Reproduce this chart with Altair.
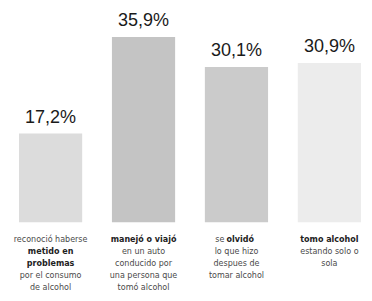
import altair as alt
import pandas as pd

categories = ["c1", "c2", "c3", "c4"]
values = [17.2, 35.9, 30.1, 30.9]
value_labels = ["17,2%", "35,9%", "30,1%", "30,9%"]

# caption lines per category: (text, weight, piece)
captions = {
    "c1": [("reconoció haberse", "normal", "c"), ("metido en", "bold", "c"),
           ("problemas", "bold", "c"), ("por el consumo", "normal", "c"),
           ("de alcohol", "normal", "c")],
    "c2": [("manejó o viajó", "bold", "c"), ("en un auto", "normal", "c"),
           ("conducido por", "normal", "c"), ("una persona que", "normal", "c"),
           ("tomó alcohol", "normal", "c")],
    "c3": [("se", "normal", "l"), ("olvidó", "bold", "r"),
           ("lo que hizo", "normal", "c"), ("despues de", "normal", "c"),
           ("tomar alcohol", "normal", "c")],
    "c4": [("tomo alcohol", "bold", "c"), ("estando solo o", "normal", "c"),
           ("sola", "normal", "c")],
}

bars = pd.DataFrame({"cat": categories, "value": values, "label": value_labels})

rows = []
for cat, lines in captions.items():
    line = 0
    for i, (txt, w, piece) in enumerate(lines):
        rows.append({"cat": cat, "line": line, "text": txt, "weight": w, "piece": piece})
        if piece != "l":
            line += 1
cap = pd.DataFrame(rows)

xscale = alt.Scale(domain=categories, range=[11, 353], paddingInner=0.32, paddingOuter=0)
x = alt.X("cat:N", scale=xscale, axis=None, sort=categories)
yscale = alt.Scale(domain=[-10.61, 41.54], nice=False, zero=False)

bar = alt.Chart(bars).mark_bar().encode(
    x=x,
    y=alt.Y("value:Q", scale=yscale, axis=None),
    y2=alt.datum(0),
    color=alt.Color("cat:N", scale=alt.Scale(domain=categories,
                    range=["#dcdcdc", "#c4c4c4", "#cbcbcb", "#ececec"]), legend=None),
)
lab = alt.Chart(bars).mark_text(font="Liberation Sans", fontSize=18, baseline="bottom",
                                dy=-7, color="#1a1a1a").encode(
    x=x, y=alt.Y("value:Q", scale=yscale, axis=None), text="label:N")

bars_layer = alt.layer(bar, lab)

lscale = alt.Scale(domain=[-19.37, 3.07], reverse=True, nice=False, zero=False)
ly = alt.Y("line:Q", scale=lscale, axis=None)

def cap_layer(weight, piece, **kw):
    return alt.Chart(cap).transform_filter(
        (alt.datum.weight == weight) & (alt.datum.piece == piece)
    ).mark_text(font="DejaVu Sans", fontSize=8, fontWeight=weight, baseline="middle",
                color="#222222" if weight == "bold" else "#4a4a4a", **kw).encode(
        x=x, y=ly, text="text:N")

cap_layers = alt.layer(
    cap_layer("normal", "c"),
    cap_layer("bold", "c"),
    cap_layer("normal", "l", align="right", dx=-12),
    cap_layer("bold", "r", align="left", dx=-10),
)

chart = alt.layer(bars_layer, cap_layers).resolve_scale(y="independent").properties(
    width=356, height=285,
    autosize=alt.AutoSizeParams(type="fit", contains="padding"),
    padding=0,
).configure(background="white").configure_view(stroke=None, strokeWidth=0)

chart.save("out.html", embed_options={"renderer": "svg", "actions": False})
